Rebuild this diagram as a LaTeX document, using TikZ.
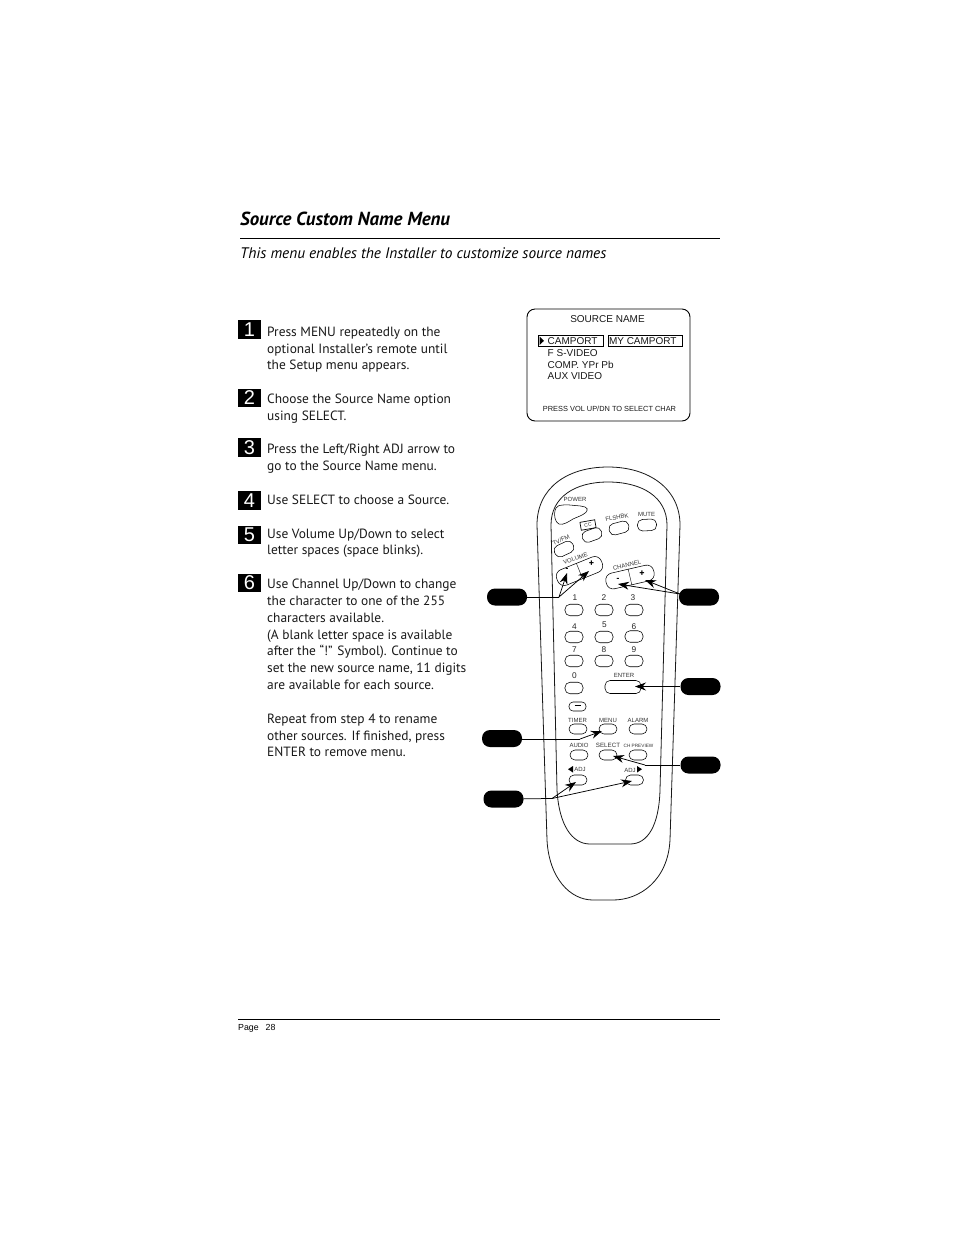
\documentclass[tikz,border=0pt]{standalone}
\usepackage{fontspec}
\setmainfont{PT Sans}
\newfontfamily\hel{Liberation Sans}
\usetikzlibrary{arrows.meta}
\tikzset{
 x=1pt,y=-1pt,
 body/.style={font=\fontsize{13.4}{16}\selectfont,anchor=base west,inner sep=0pt,text=black!90},
 numbox/.style={fill=black,text=white,minimum width=22.5pt,minimum height=18.5pt,inner sep=0pt,font=\hel\fontsize{20}{20}\selectfont},
 pill/.style={fill=black,rounded corners=8pt,minimum width=40pt,minimum height=17pt,inner sep=0pt},
 btn/.style={draw=black,line width=.55pt,rounded corners=5pt,minimum width=18pt,minimum height=11.5pt,inner sep=0pt},
 lab/.style={font=\hel\fontsize{6}{6}\selectfont,inner sep=0pt,text=black!80},
 digit/.style={font=\hel\fontsize{8.3}{9}\selectfont,inner sep=0pt,text=black!85},
 scr/.style={font=\hel\fontsize{10}{10}\selectfont,inner sep=0pt,anchor=west,text=black!90},
 conn/.style={line width=.75pt,-{Stealth[length=11pt,width=8pt]}},
 conl/.style={line width=.75pt},
 hull/.style={line width=.8pt,draw=black!90},
}
\begin{document}
\begin{tikzpicture}
\useasboundingbox (0,0) rectangle (954,1235);
\fill[white] (0,0) rectangle (954,1235);
% heading
\node[anchor=base west,inner sep=0pt,font=\bfseries\itshape\fontsize{18.9}{20}\selectfont] (title) at (240,225) {Source Custom Name Menu};
\coordinate (r1a) at (240,238.5); \coordinate (r1b) at (720,238.5);
\draw[line width=.8pt] (r1a) -- (r1b);
\node[anchor=base west,inner sep=0pt,font=\itshape\fontsize{15.3}{16}\selectfont] (sub) at (240,258) {This menu enables the Installer to customize source names};
% numbers
\node[numbox] (n1) at (249.5,329.5) {1};
\node[numbox] (n2) at (249.5,398) {2};
\node[numbox] (n3) at (249.5,447.5) {3};
\node[numbox] (n4) at (249.5,500.5) {4};
\node[numbox] (n5) at (249.5,535) {5};
\node[numbox] (n6) at (249.5,583) {6};
% text
\node[body] (t1) at (267,336.5) {Press MENU repeatedly on the};
\node[body] (t2) at (267,353) {optional Installer’s remote until};
\node[body] (t3) at (267,369.5) {the Setup menu appears.};
\node[body] (t4) at (267,403.5) {Choose the Source Name option};
\node[body] (t5) at (267,420.5) {using SELECT.};
\node[body] (t6) at (267,453.5) {Press the Left/Right ADJ arrow to};
\node[body] (t7) at (267,470.5) {go to the Source Name menu.};
\node[body] (t8) at (267,504.5) {Use SELECT to choose a Source.};
\node[body] (t9) at (267,538.5) {Use Volume Up/Down to select};
\node[body] (t10) at (267,554.5) {letter spaces (space blinks).};
\node[body] (t11) at (267,588.5) {Use Channel Up/Down to change};
\node[body] (t12) at (267,605.5) {the character to one of the 255};
\node[body] (t13) at (267,622.5) {characters available.};
\node[body] (t14) at (267,639.5) {(A blank letter space is available};
\node[body] (t15) at (267,655.5) {after the “!” Symbol). Continue to};
\node[body] (t16) at (267,672.5) {set the new source name, 11 digits};
\node[body] (t17) at (267,689.5) {are available for each source.};
\node[body] (t18) at (267,723.5) {Repeat from step 4 to rename};
\node[body] (t19) at (267,740.5) {other sources. If finished, press};
\node[body] (t20) at (267,756.5) {ENTER to remove menu.};
% screen
\draw[line width=.9pt,rounded corners=8pt] (527,309) rectangle (690,421);
\node[scr,anchor=center] (s0) at (607.5,319) {SOURCE NAME};
\draw[line width=.8pt] (538.5,335.5) rectangle (603.5,346);
\draw[line width=.8pt] (608.5,335.5) rectangle (682.5,346);
\fill (539.5,336.5) -- (544,340.8) -- (539.5,345) -- cycle;
\node[scr] (s1) at (547.5,341) {CAMPORT};
\node[scr] (s2) at (608.8,341) {MY CAMPORT};
\node[scr] (s3) at (547.5,353) {F S-VIDEO};
\node[scr] (s4) at (547.5,365) {COMP. YPr Pb};
\node[scr] (s5) at (547.5,376) {AUX VIDEO};
\node[scr,anchor=center,font=\hel\fontsize{7.4}{8}\selectfont] (s6) at (609.5,408.5) {PRESS VOL UP/DN TO SELECT CHAR};
% remote hull
\draw[hull] (547,840) .. controls (549,878) and (570,900) .. (593,900) -- (613,900)
  .. controls (640,900) and (668,880) .. (670,840) -- (680,525)
  .. controls (680,488) and (648,467) .. (608,467)
  .. controls (567,467) and (537,488) .. (537,525) -- cycle;
\draw[hull] (557,790) .. controls (559,825) and (572,844) .. (590,844) -- (630,844)
  .. controls (648,844) and (659,825) .. (660,790) -- (667,525)
  .. controls (667,497) and (642,482) .. (608,482)
  .. controls (575,482) and (551,497) .. (551,525) -- cycle;
% buttons
\draw[btn,rounded corners=0pt] plot[smooth cycle,tension=.7] coordinates {(556,508) (563,505) (575,505.5) (585,507) (587,510.5) (583,514.5) (573,519) (566,523) (559,524) (555,518)};
\node[btn,minimum width=20pt,rotate=20] (cc) at (592,535) {};
\node[draw,line width=.7pt,inner sep=0pt,minimum width=15pt,minimum height=8pt,rotate=10,font=\hel\fontsize{5}{5}\selectfont,text=black!80] (cclab) at (588,525) {CC};
\node[btn,minimum width=20pt,rotate=15] (fl) at (619,528) {};
\node[btn,minimum width=19pt,rotate=3] (mute) at (647,525) {};
\node[btn,minimum width=20pt,minimum height=12pt,rotate=25] (tv) at (564,549) {};
\node[btn,minimum width=48pt,minimum height=16.5pt,rounded corners=7pt,rotate=22] (vol) at (579.5,571) {};
\draw[line width=.4pt] (vol.north) -- (vol.south);
\node[btn,minimum width=49pt,minimum height=16pt,rounded corners=7pt,rotate=13] (ch) at (630,577) {};
\draw[line width=.4pt] (ch.north) -- (ch.south);
\foreach \n/\x/\y in {b1/574/610,b2/604/610,b3/634/610,b4/574/637,b5/604/637,b6/634/636.5,b7/574/661,b8/604/661,b9/634/661,b0/574/688}
  \node[btn] (\n) at (\x,\y) {};
\node[btn,minimum width=36pt,minimum height=13pt] (enter) at (623,687) {};
\node[btn,minimum width=17pt,minimum height=9pt,rounded corners=4pt] (dash) at (577.5,706.5) {\rule[1.6pt]{6pt}{1.1pt}};
\foreach \n/\x/\y in {timer/578/729,menu/608/729,alarm/638/729,audio/579/755,select/608/755,prev/638/755,adjl/578/780,adjr/634.5/780}
  \node[btn,minimum height=10pt] (\n) at (\x,\y) {};
% labels
\node[lab] (lp) at (575,499.5) {POWER};
\node[lab,rotate=10] (lf) at (617,517.5) {FLSHBK};
\node[lab] (lm) at (646.5,514) {MUTE};
\node[lab,rotate=25] (lt) at (561,540) {TV/FM};
\node[lab,rotate=19] (lv) at (575.5,558.5) {VOLUME};
\node[lab,rotate=13] (lc) at (627,565) {CHANNEL};
\node[font=\bfseries\fontsize{9}{9}\selectfont,inner sep=0pt] (vm) at (567,569.5) {-};
\node[font=\bfseries\fontsize{10}{10}\selectfont,inner sep=0pt] (vp) at (591.5,564) {+};
\node[font=\bfseries\fontsize{9}{9}\selectfont,inner sep=0pt] (cm) at (618,579.5) {-};
\node[font=\bfseries\fontsize{10}{10}\selectfont,inner sep=0pt] (cp) at (642,574) {+};
\foreach \t/\x/\y in {1/575/598,2/604/598,3/633/598,4/574.5/627,5/604.5/625,6/634/626.5,7/574.5/650,8/604/650,9/634/649.5,0/574.5/676}
  \node[digit] (d\t) at (\x,\y) {\t};
\node[lab] (le) at (624,675.8) {ENTER};
\node[lab] (l1) at (577.5,720) {TIMER};
\node[lab] (l2) at (608,720) {MENU};
\node[lab] (l3) at (638,720) {ALARM};
\node[lab] (l4) at (579,745) {AUDIO};
\node[lab,font=\hel\fontsize{6.2}{6}\selectfont] (l5) at (608,745) {SELECT};
\node[lab,font=\hel\fontsize{4.7}{5}\selectfont] (l6) at (638.5,745.5) {CH PREVIEW};
\node[lab] (l7) at (580,769) {ADJ};
\node[lab] (l8) at (630,770) {ADJ};
\fill (573,766) -- (573,772.5) -- (568,769.2) -- cycle;
\fill (637,766) -- (637,772.5) -- (642,769.2) -- cycle;
% pills
\node[pill] (pv) at (507,597) {};
\node[pill] (pc) at (699,597) {};
\node[pill] (pe) at (700.5,686.5) {};
\node[pill] (pm) at (502,738.5) {};
\node[pill] (ps) at (700.5,765) {};
\node[pill] (pa) at (503.5,799) {};
% connectors
\coordinate (jv) at (559,597);
\coordinate (tv1) at (567,573); \coordinate (tv2) at (589,571);
\draw[conl] (pv) -- (jv);
\draw[conn] (jv) -- (tv1);
\draw[conn] (jv) -- (tv2);
\coordinate (jc) at (680,594);
\coordinate (tc1) at (618,584); \coordinate (tc2) at (645,580);
\draw[conn] (jc) -- (tc1);
\draw[conn] (jc) -- (tc2);
\coordinate (te) at (635,686.5);
\draw[conn] (pe) -- (te);
\coordinate (jm) at (580,739); \coordinate (tm) at (602,731);
\draw[conl] (pm.east |- jm) -- (jm);
\draw[conn] (jm) -- (tm);
\coordinate (js) at (645,765); \coordinate (tse) at (613,756);
\draw[conl] (ps) -- (js);
\draw[conn] (js) -- (tse);
\coordinate (ja) at (552,798.5);
\coordinate (ta1) at (576,782); \coordinate (ta2) at (632,781);
\draw[conl] (pa) -- (ja);
\draw[conn] (ja) -- (ta1);
\draw[conn] (ja) -- (ta2);
% footer
\coordinate (r2a) at (238,1019); \coordinate (r2b) at (720,1019);
\draw[line width=.7pt] (r2a) -- (r2b);
\node[anchor=base west,inner sep=0pt,font=\hel\fontsize{8.8}{9}\selectfont] (pg) at (238,1030.5) {Page\hspace{7pt}28};
\end{tikzpicture}
\end{document}
